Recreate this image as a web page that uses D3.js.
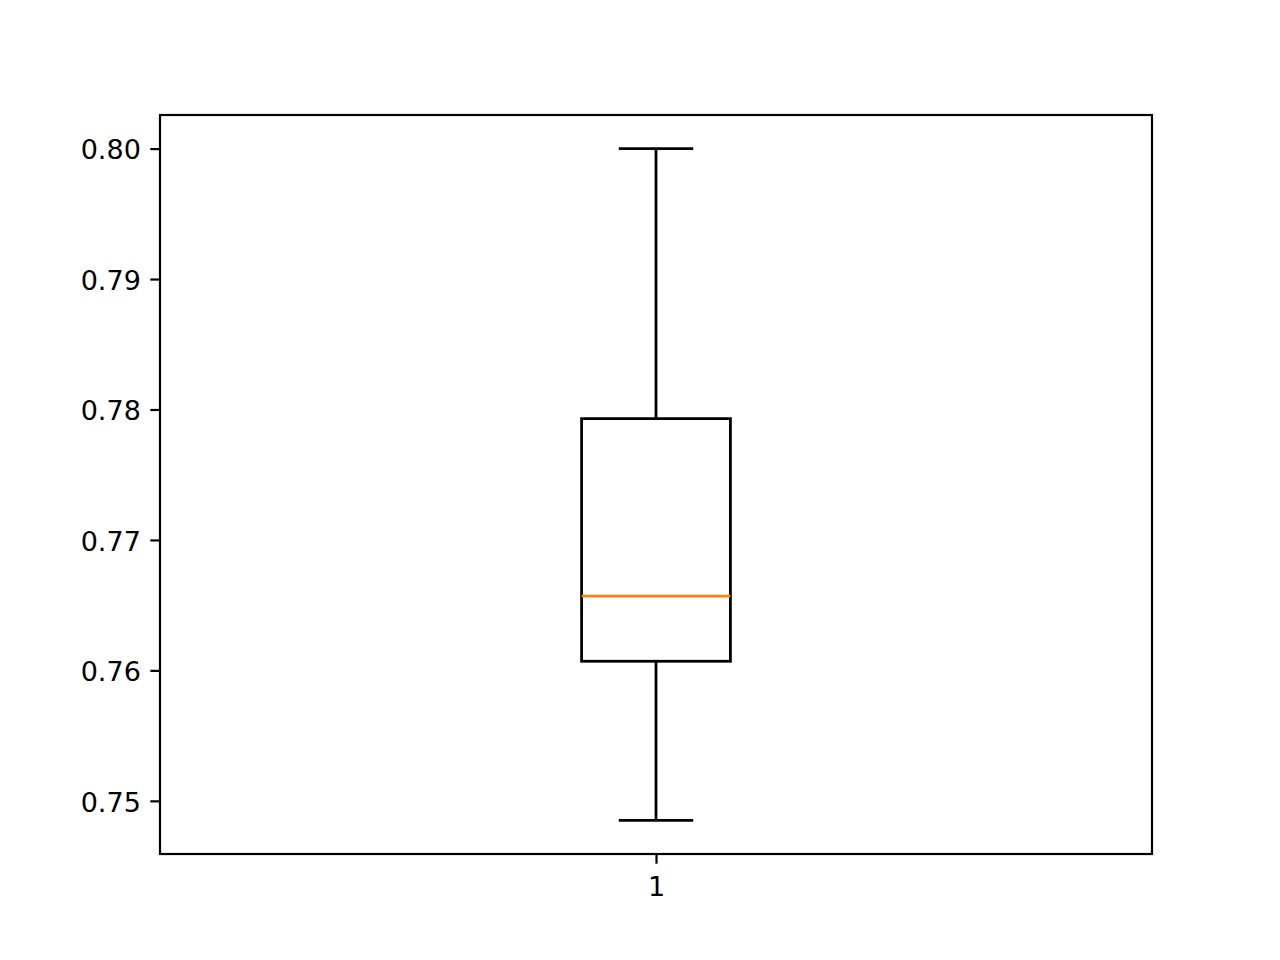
<!DOCTYPE html>
<html>
<head>
<meta charset="utf-8">
<script src="https://cdn.jsdelivr.net/npm/d3@7"></script>
<style>
  body { margin: 0; background: #fff; }
</style>
</head>
<body>
<svg width="1280" height="960"></svg>
<script>
// box statistics
var categories = ["1"];
var whiskerLow = [0.7485];
var q1 = [0.7607];
var median = [0.7657];
var q3 = [0.7793];
var whiskerHigh = [0.8000];
var yTicks = [0.75, 0.76, 0.77, 0.78, 0.79, 0.80];

var svg = d3.select("svg"),
    margin = {top: 115, right: 128, bottom: 106, left: 160},
    width = +svg.attr("width") - margin.left - margin.right,
    height = +svg.attr("height") - margin.top - margin.bottom,
    g = svg.append("g").attr("transform", "translate(" + margin.left + "," + margin.top + ")");

var data = categories.map(function(c, i) {
  return {pos: i + 1, lo: whiskerLow[i], q1: q1[i], med: median[i], q3: q3[i], hi: whiskerHigh[i]};
});

var x = d3.scaleLinear()
    .domain([0.5, categories.length + 0.5])
    .range([0, width]);

var lo = d3.min(whiskerLow), hi = d3.max(whiskerHigh), pad = (hi - lo) * 0.05;
var y = d3.scaleLinear()
    .domain([lo - pad, hi + pad])
    .range([height, 0]);

var boxW = 0.15, capW = 0.075, lw = 2.8;

g.append("g")
    .attr("class", "axis axis--x")
    .attr("transform", "translate(0," + height + ")")
    .call(d3.axisBottom(x).tickValues(data.map(function(d) { return d.pos; }))
      .tickFormat(function(d, i) { return categories[i]; })
      .tickSize(9.7).tickPadding(13));

g.append("g")
    .attr("class", "axis axis--y")
    .call(d3.axisLeft(y).tickValues(yTicks).tickFormat(d3.format(".2f"))
      .tickSize(9.7).tickPadding(9.5));

g.selectAll(".axis")
    .attr("font-size", null)
    .attr("font-family", null)
    .style("font-size", "27px")
    .style("font-family", "'DejaVu Sans', sans-serif");
g.selectAll(".axis .domain").remove();
g.selectAll(".axis line").attr("stroke", "#000").attr("stroke-width", 2.2);
g.selectAll(".axis text").attr("fill", "#000");
g.selectAll(".axis--y text").attr("dy", "0.38em");

var box = g.selectAll(".box")
    .data(data)
  .enter().append("g")
    .attr("class", "box");

// whiskers
box.append("line")
    .attr("x1", function(d) { return x(d.pos); })
    .attr("x2", function(d) { return x(d.pos); })
    .attr("y1", function(d) { return y(d.q3); })
    .attr("y2", function(d) { return y(d.hi); })
    .attr("stroke", "#000").attr("stroke-width", lw);

box.append("line")
    .attr("x1", function(d) { return x(d.pos); })
    .attr("x2", function(d) { return x(d.pos); })
    .attr("y1", function(d) { return y(d.q1); })
    .attr("y2", function(d) { return y(d.lo); })
    .attr("stroke", "#000").attr("stroke-width", lw);

// caps
box.append("line")
    .attr("x1", function(d) { return x(d.pos - capW / 2); })
    .attr("x2", function(d) { return x(d.pos + capW / 2); })
    .attr("y1", function(d) { return y(d.hi); })
    .attr("y2", function(d) { return y(d.hi); })
    .attr("stroke", "#000").attr("stroke-width", lw);

box.append("line")
    .attr("x1", function(d) { return x(d.pos - capW / 2); })
    .attr("x2", function(d) { return x(d.pos + capW / 2); })
    .attr("y1", function(d) { return y(d.lo); })
    .attr("y2", function(d) { return y(d.lo); })
    .attr("stroke", "#000").attr("stroke-width", lw);

// box
box.append("rect")
    .attr("x", function(d) { return x(d.pos - boxW / 2); })
    .attr("width", function(d) { return x(d.pos + boxW / 2) - x(d.pos - boxW / 2); })
    .attr("y", function(d) { return y(d.q3); })
    .attr("height", function(d) { return y(d.q1) - y(d.q3); })
    .attr("fill", "none")
    .attr("stroke", "#000").attr("stroke-width", lw);

// median
box.append("line")
    .attr("x1", function(d) { return x(d.pos - boxW / 2); })
    .attr("x2", function(d) { return x(d.pos + boxW / 2); })
    .attr("y1", function(d) { return y(d.med); })
    .attr("y2", function(d) { return y(d.med); })
    .attr("stroke", "#ff7f0e").attr("stroke-width", lw);

// frame
g.append("rect")
    .attr("width", width)
    .attr("height", height)
    .attr("fill", "none")
    .attr("stroke", "#000")
    .attr("stroke-width", 2.2);
</script>
</body>
</html>
